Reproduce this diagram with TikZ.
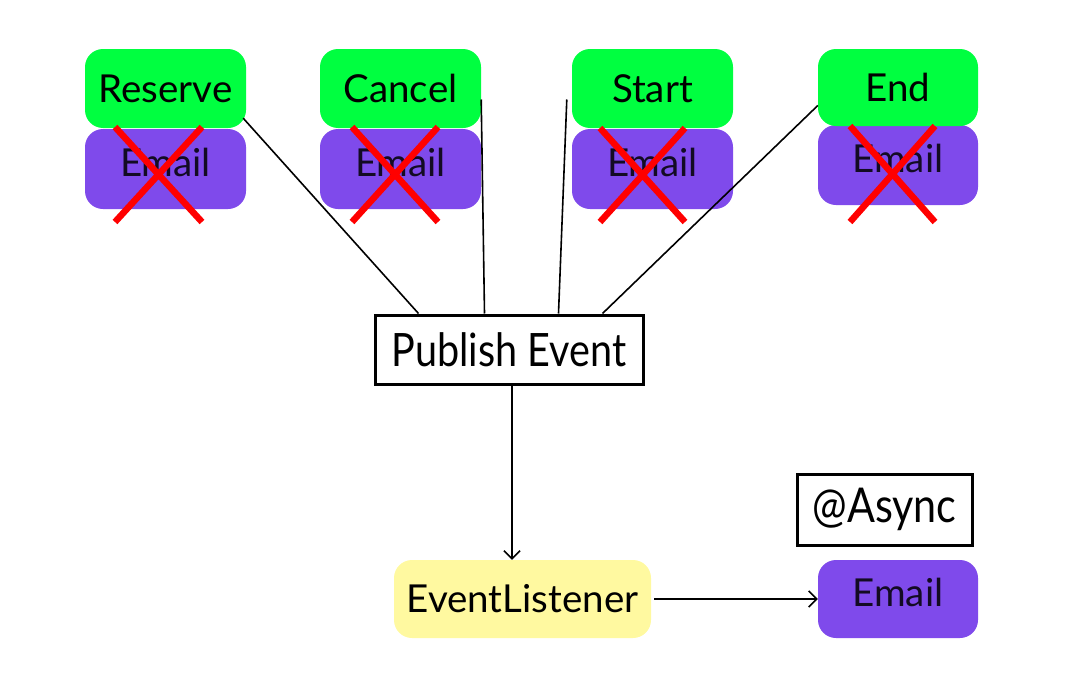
\documentclass[tikz,border=0pt]{standalone}
\usepackage{fontspec}
\setmainfont{Lato}
\usetikzlibrary{arrows.meta,calc}
\definecolor{evgreen}{RGB}{0,255,64}
\definecolor{mailpurple}{RGB}{127,74,235}
\definecolor{lyellow}{RGB}{255,249,160}
\definecolor{xred}{RGB}{255,0,0}
\begin{document}
\begin{tikzpicture}[x=1pt,y=1pt,
  box/.style={rectangle,rounded corners=18pt,inner sep=0pt,font=\fontsize{38.5}{44}\selectfont,text=black},
  evbox/.style={box,fill=evgreen,minimum width=161pt,minimum height=79pt},
  mailtext/.style={text=black!85!mailpurple,text height=26pt,text depth=12pt},
  mailbox/.style={box,fill=mailpurple,mailtext,minimum width=161pt,minimum height=80pt},
  framebox/.style={rectangle,draw=black,line width=3pt,inner sep=0pt,fill=white},
  conn/.style={line width=1.6pt},
  arr/.style={conn,-{Straight Barb[length=8pt,width=16pt,line width=1.6pt]}},
  cross/.style={xred,line width=6.5pt}
]
\useasboundingbox (0,0) rectangle (1080,-699);
% crossed-out email boxes
\node[mailbox] (m1) at (165.5,-169) {Email};
\node[mailbox] (m2) at (400.5,-169) {Email};
\node[mailbox] (m3) at (652.5,-169) {Email};
\node[mailbox,minimum width=160pt] (m4) at (898,-165) {Email};
% event boxes
\node[evbox] (res) at (165.5,-88.5) {Reserve};
\node[evbox] (can) at (400.5,-88.5) {Cancel};
\node[evbox] (sta) at (652.5,-88.5) {Start};
\node[evbox,minimum width=160pt,minimum height=77pt] (end) at (898,-87.5) {End};
% red crosses
\draw[cross] (115,-127) -- (202,-222) (202,-127) -- (115,-222);
\draw[cross] (352,-127) -- (438,-222) (438,-127) -- (352,-222);
\draw[cross] (600,-128) -- (685,-222) (685,-128) -- (600,-222);
\draw[cross] (850,-126) -- (935,-222) (935,-126) -- (850,-222);
% publish event
\node[framebox,minimum width=268pt,minimum height=69pt,font=\fontsize{46}{50}\selectfont] (pub) at (509,-349.5) {\scalebox{0.86}[1]{Publish Event}};
% listener and async email
\node[box,fill=lyellow,minimum width=257pt,minimum height=78pt] (el) at (522.5,-599) {EventListener};
\node[box,fill=mailpurple,mailtext,minimum width=160pt,minimum height=78pt] (m5) at (898,-599) {Email\hspace{10pt}};
\node[framebox,minimum width=175pt,minimum height=71pt,font=\fontsize{48}{52}\selectfont] (async) at (884.5,-509.5) {\scalebox{0.86}[1]{@Async}};
% connectors
\draw[conn] ($(res.south east)+(-3,10)$) -- ($(pub.north west)+(45,0)$);
\draw[conn] ($(can.east)+(0,-11)$) -- ($(pub.north west)+(111,0)$);
\draw[conn] ($(sta.west)+(-5,-11)$) -- ($(pub.north west)+(185,0)$);
\draw[conn] ($(end.west)+(0,-18)$) -- ($(pub.north west)+(229,0)$);
\draw[arr] (pub.south -| 512,0) -- (el.north -| 512,0);
\draw[arr] ($(el.east)+(3,0)$) -- (m5.west);
\end{tikzpicture}
\end{document}
